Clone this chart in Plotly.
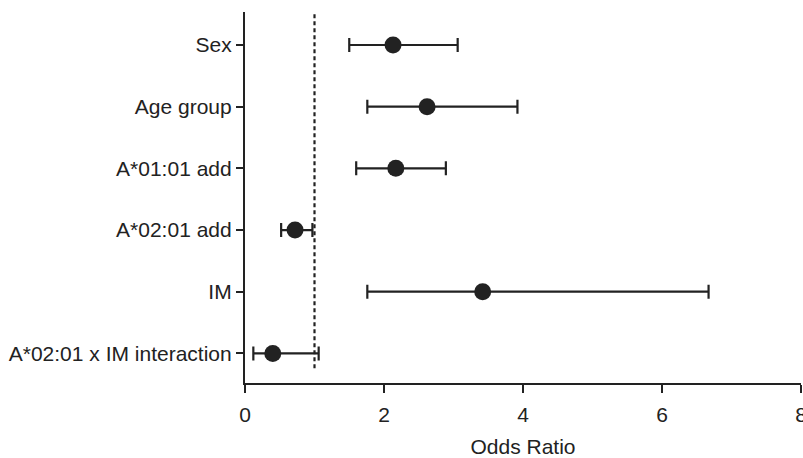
import plotly.graph_objects as go

categories = ["Sex", "Age group", "A*01:01 add", "A*02:01 add", "IM", "A*02:01 x IM interaction"]
odds_ratio = [2.13, 2.62, 2.17, 0.72, 3.42, 0.40]
ci_lower = [1.50, 1.76, 1.60, 0.52, 1.76, 0.12]
ci_upper = [3.06, 3.92, 2.89, 0.97, 6.67, 1.06]
x_ticks = [0, 2, 4, 6, 8]

ypos = list(range(len(categories) - 1, -1, -1))
err_plus = [u - o for u, o in zip(ci_upper, odds_ratio)]
err_minus = [o - l for o, l in zip(odds_ratio, ci_lower)]

ink = "#222222"
font_family = "Liberation Sans, Arial, sans-serif"

fig = go.Figure()
fig.add_trace(go.Scatter(
    x=odds_ratio, y=ypos, mode="markers",
    marker=dict(size=17, color=ink),
    error_x=dict(type="data", symmetric=False, array=err_plus, arrayminus=err_minus,
                 color=ink, thickness=2.2, width=7),
    showlegend=False,
))

fig.add_shape(type="line", x0=1, x1=1, y0=-0.24, y1=5.535, xref="x", yref="y",
              line=dict(color=ink, width=2.2, dash="4px,3px"))

fig.update_layout(
    width=803, height=458,
    margin=dict(l=245, r=2, t=12, b=75),
    paper_bgcolor="white", plot_bgcolor="white",
    font=dict(family=font_family, size=21, color=ink),
    xaxis=dict(range=[0, 8], tickvals=x_ticks, showgrid=False, zeroline=False,
               automargin=False, ticklabeloverflow="allow",
               showline=True, linecolor=ink, linewidth=2.2,
               ticks="outside", ticklen=8, tickwidth=2.2, tickcolor=ink,
               ticklabelstandoff=4,
               title=dict(text="Odds Ratio", standoff=15, font=dict(size=21))),
    yaxis=dict(range=[-0.48, 5.535], tickvals=ypos, ticktext=categories,
               showgrid=False, zeroline=False, automargin=False,
               showline=True, linecolor=ink, linewidth=2.2,
               ticks="outside", ticklen=7, tickwidth=2.2, tickcolor=ink),
)

fig.write_html("out.html", config={"displayModeBar": False},
               post_script="document.body.style.margin='0px';document.body.style.overflow='hidden';")
